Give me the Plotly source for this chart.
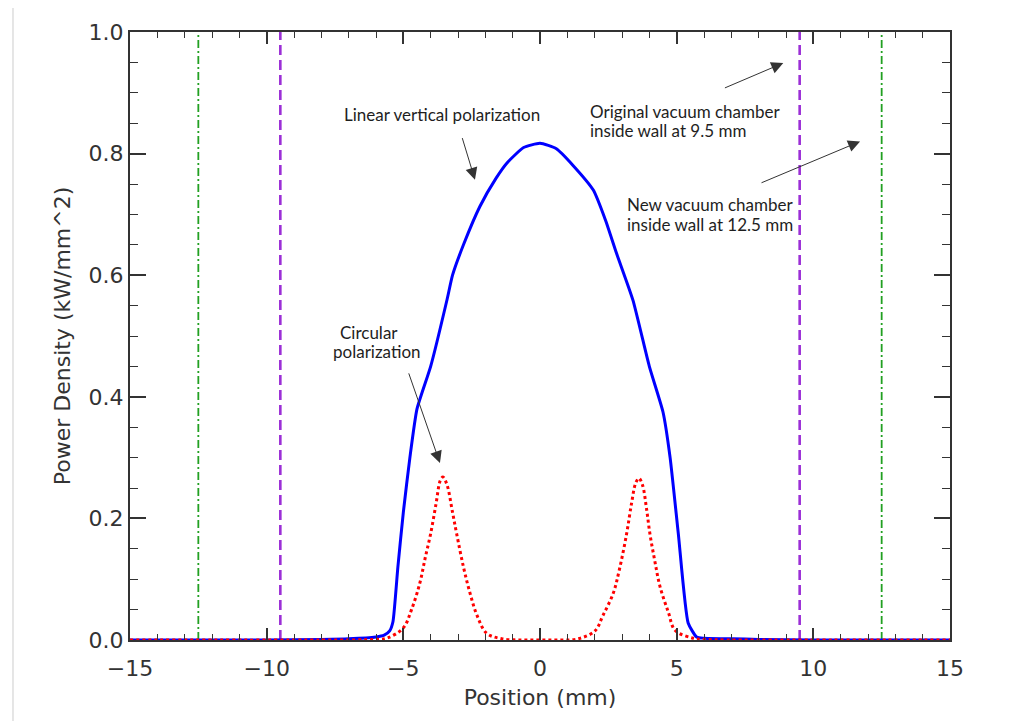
import plotly.graph_objects as go

# Linear vertical polarization (blue solid)
lin_x = [-15, -10, -8, -7, -6, -5.7, -5.5, -5.38, -5.2, -5.0, -4.76, -4.5, -4.0, -3.4, -3.2,
         -2.8, -2.2, -1.6, -1.2, -0.6, 0, 0.6, 1.2, 1.95, 2.4, 2.8, 3.4, 4.0, 4.5, 4.76,
         5.06, 5.42, 5.73, 6, 7, 8, 10, 15]
lin_y = [0.0, 0.0, 0.001, 0.002, 0.005, 0.008, 0.015, 0.03, 0.12, 0.21, 0.30, 0.38, 0.45, 0.56, 0.60,
         0.65, 0.713, 0.76, 0.785, 0.81, 0.817, 0.808, 0.781, 0.74, 0.69, 0.636, 0.559, 0.45, 0.375, 0.30,
         0.175, 0.028, 0.005, 0.003, 0.002, 0.001, 0.0, 0.0]

# Circular polarization (red dotted)
circ_x = [-15, -8, -6, -5.6, -5.0, -4.7, -4.4, -4.2, -4.0, -3.8, -3.65, -3.55, -3.4, -3.2, -3.05,
          -2.8, -2.56, -2.3, -1.95, -1.4, -0.7, 0, 0.7, 1.4, 2.01, 2.3, 2.68, 2.9, 3.17, 3.35,
          3.5, 3.62, 3.75, 3.9, 4.02, 4.2, 4.39, 4.7, 4.94, 5.6, 6, 8, 15]
circ_y = [0.0, 0.0, 0.001, 0.003, 0.02, 0.05, 0.093, 0.135, 0.175, 0.225, 0.262, 0.268, 0.255, 0.21, 0.175,
          0.12, 0.077, 0.04, 0.011, 0.002, 0.0, 0.0, 0.0, 0.002, 0.015, 0.04, 0.077, 0.115, 0.175, 0.225,
          0.258, 0.266, 0.255, 0.215, 0.175, 0.13, 0.088, 0.045, 0.016, 0.003, 0.001, 0.0, 0.0]

# Vacuum chamber inside walls
orig_walls = [-9.5, 9.5]
new_walls = [-12.5, 12.5]
wall_span = [0.0, 1.0]

x_ticks = [-15, -10, -5, 0, 5, 10, 15]
y_ticks = [0.0, 0.2, 0.4, 0.6, 0.8, 1.0]

fig = go.Figure()

for w in new_walls:
    fig.add_trace(go.Scatter(x=[w, w], y=wall_span, mode="lines",
                             line=dict(color="#22a022", width=1.8, dash="8px,3px,2px,3px"),
                             showlegend=False, hoverinfo="skip"))
for w in orig_walls:
    fig.add_trace(go.Scatter(x=[w, w], y=wall_span, mode="lines",
                             line=dict(color="#9b2fd6", width=2.6, dash="10px,5px"),
                             showlegend=False, hoverinfo="skip"))

fig.add_trace(go.Scatter(x=lin_x, y=lin_y, mode="lines", line_shape="spline",
                         line=dict(color="#0000ff", width=3, smoothing=0.5),
                         showlegend=False))
fig.add_trace(go.Scatter(x=circ_x, y=circ_y, mode="lines", line_shape="spline",
                         line=dict(color="#ff0000", width=3, dash="3px,3px"),
                         showlegend=False))

tfont = dict(family="Lato", size=17, color="#1e1e1e")
ann = []
def text(x, y, s, anchor="left"):
    ann.append(dict(x=x, y=y, xref="x", yref="y", text=s, showarrow=False,
                    xanchor=anchor, yanchor="middle", font=tfont))
def arrow(tx, ty, hx, hy):
    ann.append(dict(x=hx, y=hy, ax=tx, ay=ty, xref="x", yref="y", axref="x", ayref="y",
                    text="", showarrow=True, arrowhead=2, arrowsize=2.4, arrowwidth=1,
                    arrowcolor="#333333", standoff=0, startstandoff=0))

text(-3.57, 0.8635, "Linear vertical polarization", "center")
text(-6.26, 0.506, "Circular", "center")
text(-5.95, 0.474, "polarization", "center")
text(1.77, 0.869, "Original vacuum chamber")
text(1.77, 0.838, "inside wall at 9.5 mm")
text(3.11, 0.7155, "New vacuum chamber")
text(3.11, 0.6826, "inside wall at 12.5 mm")

arrow(-2.86, 0.828, -2.38, 0.757)
arrow(-4.82, 0.441, -3.66, 0.291)
arrow(6.71, 0.907, 8.90, 0.949)
arrow(8.05, 0.751, 11.71, 0.820)

axfont = dict(family="DejaVu Sans", size=22, color="#333333")

fig.update_layout(
    width=1005, height=713,
    margin=dict(l=122, r=63, t=24, b=81),
    paper_bgcolor="white", plot_bgcolor="white",
    annotations=ann,
    shapes=[
        dict(type="line", xref="paper", yref="paper", x0=-0.1427, x1=1.08, y0=1.0428, y1=1.0428,
             line=dict(color="#cccccc", width=1)),
        dict(type="line", xref="paper", yref="paper", x0=-0.1427, x1=-0.1427, y0=1.0428, y1=-0.14,
             line=dict(color="#cccccc", width=1)),
    ],
    xaxis=dict(range=[-15, 15], tickvals=x_ticks, ticks="inside", ticklen=12, tickwidth=1.5,
               tickcolor="#333333", mirror="allticks", showline=True, linewidth=2,
               linecolor="#333333", showgrid=False, zeroline=False, tickfont=axfont,
               ticklabelstandoff=8,
               minor=dict(dtick=1, tick0=0, ticks="inside", ticklen=6, tickwidth=1.2,
                          tickcolor="#333333", showgrid=False),
               title=dict(text="Position (mm)", font=axfont, standoff=9)),
    yaxis=dict(range=[0, 1], tickvals=y_ticks, tickformat=".1f", ticks="inside", ticklen=16,
               tickwidth=1.5, tickcolor="#333333", mirror="allticks", showline=True, linewidth=2,
               linecolor="#333333", showgrid=False, zeroline=False, tickfont=axfont,
               minor=dict(dtick=0.05, tick0=0, ticks="inside", ticklen=8, tickwidth=1.2,
                          tickcolor="#333333", showgrid=False),
               title=dict(text="Power Density (kW/mm^2)", font=axfont, standoff=12)),
)

fig.write_html("out.html")
